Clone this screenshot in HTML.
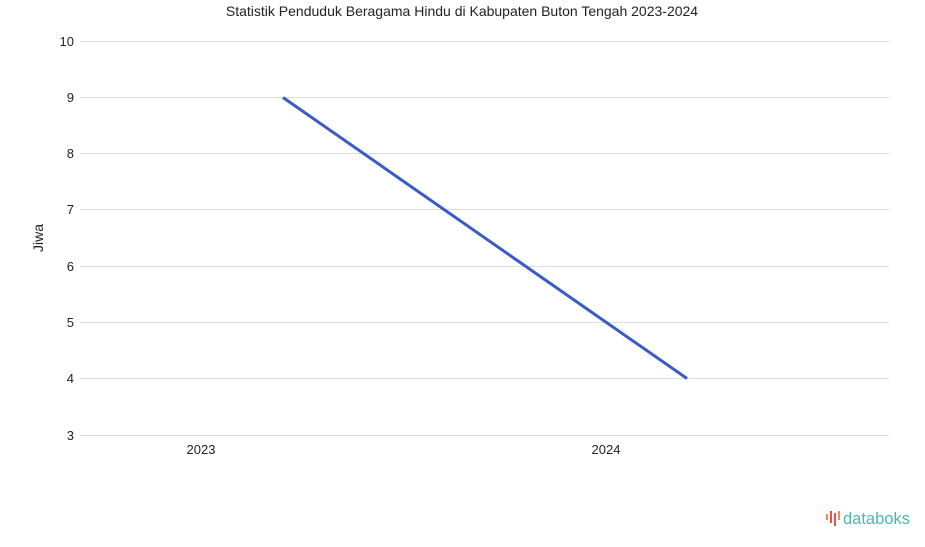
<!DOCTYPE html>
<html><head><meta charset="utf-8"><style>
html,body{margin:0;padding:0;background:#fff;width:925px;height:547px;overflow:hidden}
svg{display:block;font-family:"Liberation Sans",sans-serif}
</style></head><body>
<svg width="925" height="547" viewBox="0 0 925 547" xmlns="http://www.w3.org/2000/svg">
<text x="462" y="16" text-anchor="middle" font-size="14" fill="#222">Statistik Penduduk Beragama Hindu di Kabupaten Buton Tengah 2023-2024</text>
<g stroke="#dcdcdc" stroke-width="1">
<line x1="80" x2="889" y1="41.5" y2="41.5"/>
<line x1="80" x2="889" y1="97.5" y2="97.5"/>
<line x1="80" x2="889" y1="153.5" y2="153.5"/>
<line x1="80" x2="889" y1="209.5" y2="209.5"/>
<line x1="80" x2="889" y1="266.5" y2="266.5"/>
<line x1="80" x2="889" y1="322.5" y2="322.5"/>
<line x1="80" x2="889" y1="378.5" y2="378.5"/>
<line x1="80" x2="889" y1="435.5" y2="435.5"/>
</g>
<g font-size="13" fill="#222" text-anchor="end">
<text x="74" y="46">10</text><text x="74" y="102">9</text><text x="74" y="158">8</text>
<text x="74" y="214">7</text><text x="74" y="271">6</text><text x="74" y="327">5</text>
<text x="74" y="383">4</text><text x="74" y="440">3</text>
</g>
<text transform="translate(43,238) rotate(-90)" text-anchor="middle" font-size="14" fill="#222">Jiwa</text>
<g font-size="13" fill="#222" text-anchor="middle">
<text x="201" y="454">2023</text><text x="606" y="454">2024</text>
</g>
<line x1="283" y1="97.5" x2="687" y2="378.5" stroke="#3a5bc7" stroke-width="3"/>
<g>
<rect x="826" y="514" width="2" height="6" fill="#f08a5d"/>
<rect x="830" y="511" width="2" height="12" fill="#e94e4e"/>
<rect x="834" y="513" width="2" height="13" fill="#e94e4e"/>
<rect x="838" y="511" width="2" height="9" fill="#f08a5d"/>
<text x="843" y="524" font-size="16.5" fill="#4cb8b0">databoks</text>
</g>
</svg>
</body></html>
